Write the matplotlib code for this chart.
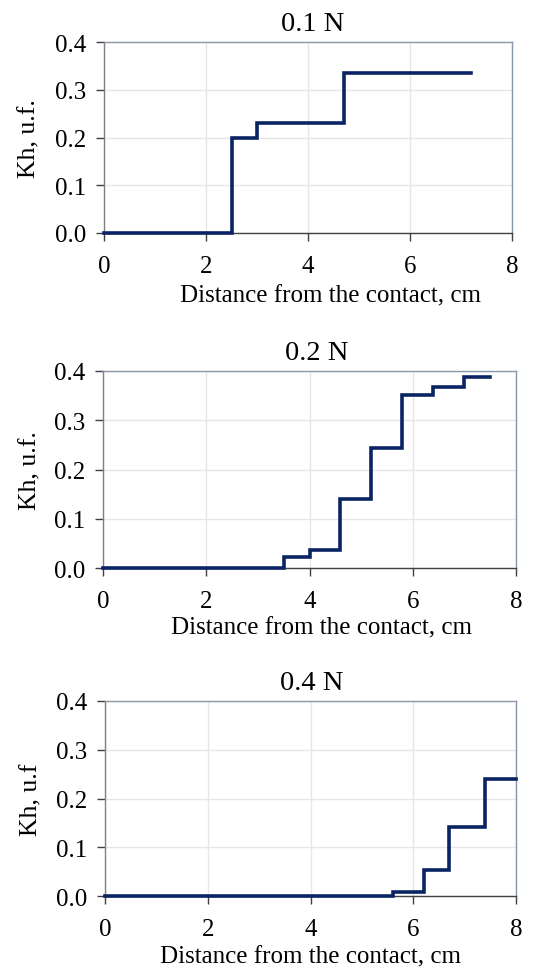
import matplotlib
matplotlib.use("Agg")
import matplotlib.pyplot as plt

plt.rcParams['font.family'] = ['Liberation Serif', 'DejaVu Serif']

# Step profiles of Kh along the distance from the contact for three loads
titles = ["0.1 N", "0.2 N", "0.4 N"]
ylabels = ["Kh, u.f.", "Kh, u.f.", "Kh, u.f"]
xlabel = "Distance from the contact, cm"

x_01 = [0.0, 2.5, 3.0, 4.7, 7.2]
k_01 = [0.0, 0.200, 0.230, 0.336, 0.336]

x_02 = [0.0, 3.5, 4.0, 4.6, 5.2, 5.8, 6.4, 7.0, 7.5]
k_02 = [0.0, 0.022, 0.037, 0.140, 0.244, 0.351, 0.368, 0.387, 0.387]

x_04 = [0.0, 5.6, 6.2, 6.7, 7.4, 8.0]
k_04 = [0.0, 0.009, 0.054, 0.142, 0.239, 0.239]

series = [(x_01, k_01), (x_02, k_02), (x_04, k_04)]

xticks = [0, 2, 4, 6, 8]
yticks = [0.0, 0.1, 0.2, 0.3, 0.4]
ytick_labels = ["0.0", "0.1", "0.2", "0.3", "0.4"]

W, H = 553, 970
fig = plt.figure(figsize=(W / 100, H / 100), dpi=100)

# axes boxes in pixels: left, top, right, bottom
boxes = [(104, 43, 512, 234), (103, 372, 516, 569), (105, 702, 516, 897)]
# per-panel placement of title and axis labels (axes fractions)
title_x = [0.511, 0.517, 0.503]
xlabel_pos = [(0.556, -0.267), (0.530, -0.244), (0.501, -0.256)]
ylabel_x = [-0.156, -0.148, -0.153]

line_color = "#0a2463"
for i, ((l, t, r, b), (xs, ks)) in enumerate(zip(boxes, series)):
    ax = fig.add_axes([l / W, 1 - b / H, (r - l) / W, (b - t) / H])
    ax.step(xs, ks, where="post", color=line_color, lw=2.6,
            solid_joinstyle="miter", zorder=3, clip_on=False)
    ax.set_xlim(0, 8)
    ax.set_ylim(0, 0.4)
    ax.set_xticks(xticks)
    ax.set_yticks(yticks)
    ax.set_yticklabels(ytick_labels)
    ax.grid(True, color="#e6e6e6", lw=1.0, zorder=0)
    ax.tick_params(axis="both", direction="out", length=6, width=1.0,
                   colors="#404040", labelcolor="black", labelsize=18)
    ax.tick_params(axis="x", pad=10)
    ax.tick_params(axis="y", pad=7)
    ax.spines["left"].set_color("#808080")
    ax.spines["bottom"].set_color("#404040")
    ax.spines["top"].set_color("#8a96aa")
    ax.spines["right"].set_color("#8a96aa")
    for s in ax.spines.values():
        s.set_linewidth(1.0)
    ax.set_title(titles[i], fontsize=20.5, pad=8.5, x=title_x[i])
    ax.set_xlabel(xlabel, fontsize=18)
    ax.xaxis.set_label_coords(*xlabel_pos[i])
    ax.set_ylabel(ylabels[i], fontsize=18.5)
    ax.yaxis.set_label_coords(ylabel_x[i], 0.5)

fig.savefig("out.png", dpi=100)
